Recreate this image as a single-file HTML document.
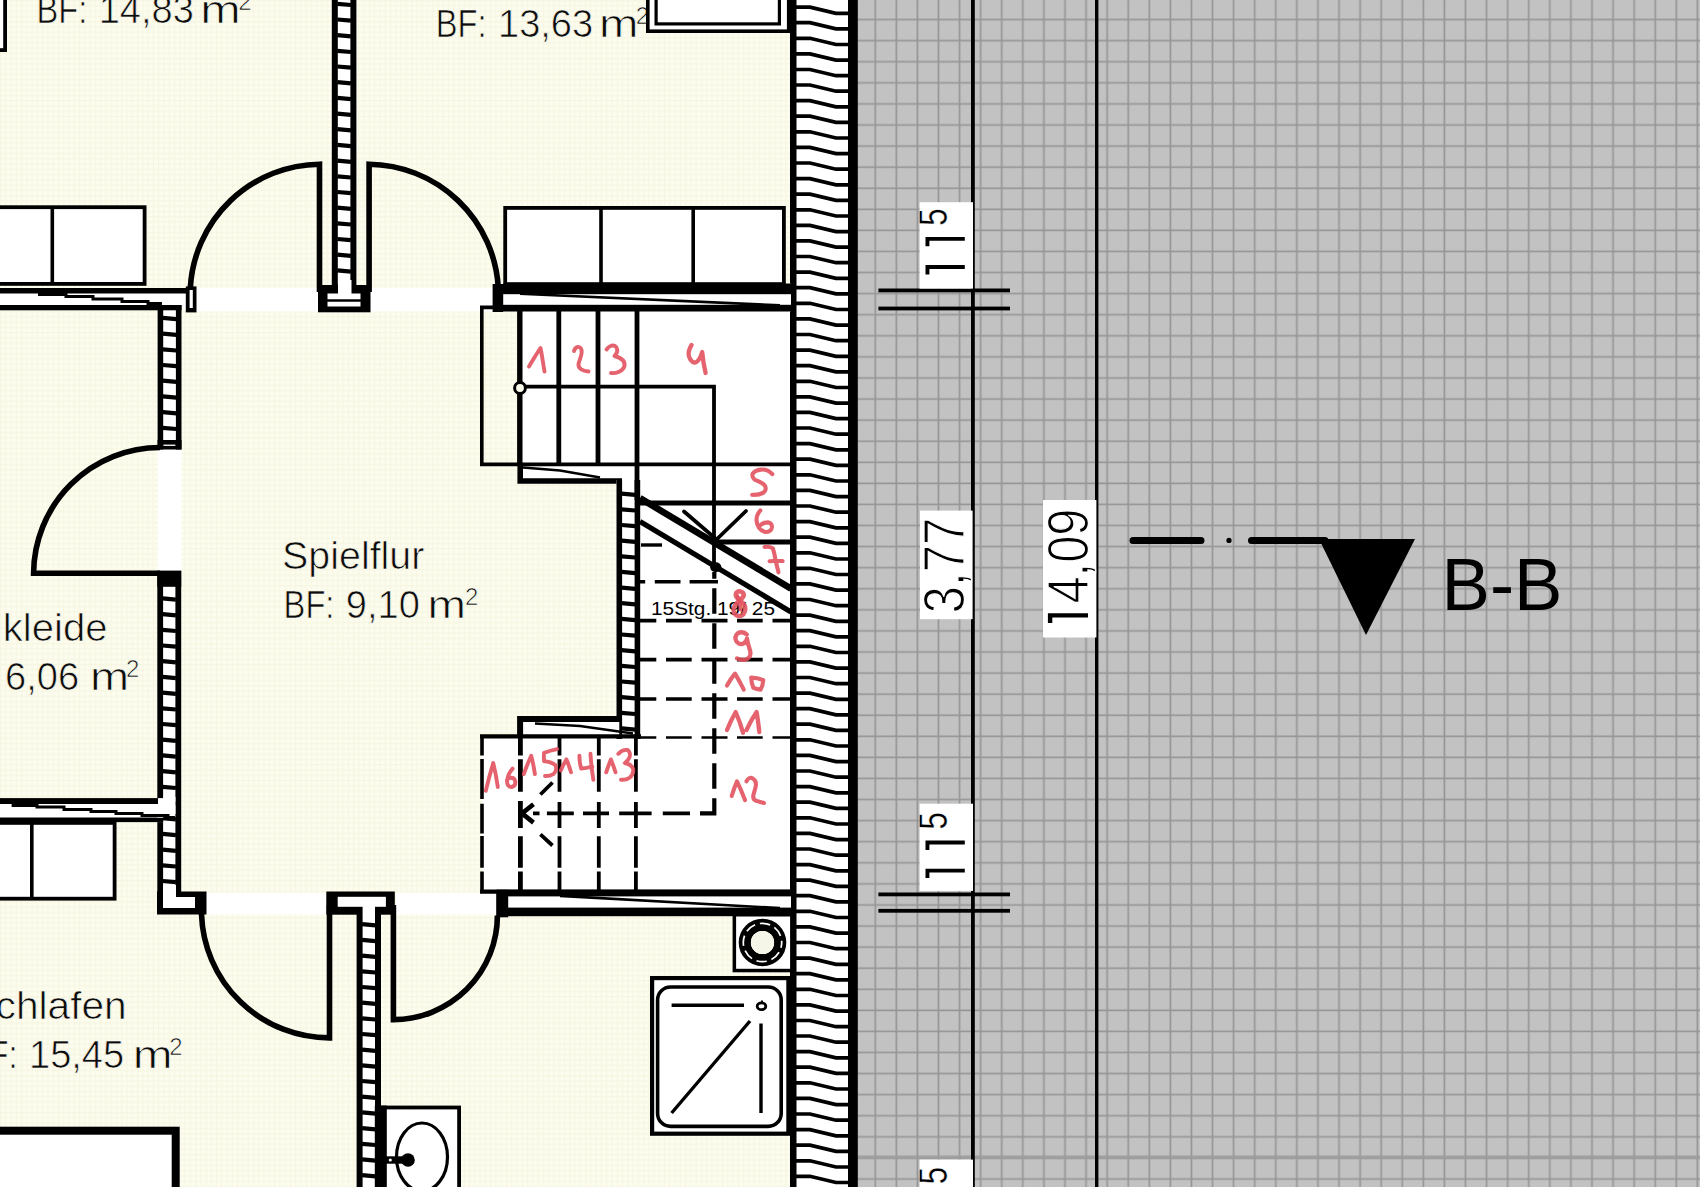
<!DOCTYPE html>
<html><head><meta charset="utf-8"><title>Grundriss</title>
<style>html,body{margin:0;padding:0;background:#fff;}body{width:1700px;height:1187px;overflow:hidden;font-family:"Liberation Sans",sans-serif;}svg{display:block}</style>
</head><body>
<svg width="1700" height="1187" viewBox="0 0 1700 1187">
<defs>
<pattern id="gg" x="9.6" y="18.3" width="21.08" height="21.08" patternUnits="userSpaceOnUse">
<rect width="21.08" height="21.08" fill="#c2c2c2"/>
<path d="M0 1.4H21.08M1.4 0V21.08" stroke="#6a6a6a" stroke-width="1.7" fill="none" opacity="0.5"/>
</pattern>
<pattern id="cg" x="0" y="0" width="5.27" height="5.27" patternUnits="userSpaceOnUse">
<rect width="5.27" height="5.27" fill="#fcfcef"/>
<path d="M0 0.5H5.27M0.5 0V5.27" stroke="#f6f6e1" stroke-width="1" fill="none"/>
</pattern>
</defs>
<rect x="0" y="0" width="792" height="1187" fill="url(#cg)"/>
<rect x="857" y="0" width="843" height="1187" fill="url(#gg)"/>
<rect x="857" y="1155.4" width="843" height="3.8" fill="#9c9c9c" opacity="0.8"/>
<rect x="196" y="288" width="122" height="23.5" fill="#fff"/>
<rect x="370" y="288" width="123" height="23.5" fill="#fff"/>
<rect x="158" y="449" width="23.5" height="123" fill="#fff"/>
<rect x="206" y="893" width="121" height="21.5" fill="#fff"/>
<rect x="396" y="893" width="101" height="21.5" fill="#fff"/>
<rect x="518" y="311" width="273" height="154" fill="#fff"/>
<rect x="639" y="464" width="152" height="274" fill="#fff"/>
<rect x="482" y="737" width="309" height="154" fill="#fff"/>
<rect x="790" y="0" width="7" height="1187" fill="#000"/>
<rect x="796.5" y="0" width="52" height="1187" fill="#fff"/>
<rect x="848" y="0" width="9.8" height="1187" fill="#000"/>
<path d="M796 -8.5H810L836 -2.3H849 M796 7.1H810L836 13.3H849 M796 22.7H810L836 28.9H849 M796 38.3H810L836 44.5H849 M796 53.9H810L836 60.1H849 M796 69.5H810L836 75.7H849 M796 85.0H810L836 91.2H849 M796 100.6H810L836 106.8H849 M796 116.2H810L836 122.4H849 M796 131.8H810L836 138.0H849 M796 147.4H810L836 153.6H849 M796 163.0H810L836 169.2H849 M796 178.6H810L836 184.8H849 M796 194.2H810L836 200.4H849 M796 209.8H810L836 216.0H849 M796 225.4H810L836 231.6H849 M796 240.9H810L836 247.1H849 M796 256.5H810L836 262.7H849 M796 272.1H810L836 278.3H849 M796 287.7H810L836 293.9H849 M796 303.3H810L836 309.5H849 M796 318.9H810L836 325.1H849 M796 334.5H810L836 340.7H849 M796 350.1H810L836 356.3H849 M796 365.7H810L836 371.9H849 M796 381.3H810L836 387.5H849 M796 396.9H810L836 403.1H849 M796 412.4H810L836 418.6H849 M796 428.0H810L836 434.2H849 M796 443.6H810L836 449.8H849 M796 459.2H810L836 465.4H849 M796 474.8H810L836 481.0H849 M796 490.4H810L836 496.6H849 M796 506.0H810L836 512.2H849 M796 521.6H810L836 527.8H849 M796 537.2H810L836 543.4H849 M796 552.8H810L836 559.0H849 M796 568.3H810L836 574.5H849 M796 583.9H810L836 590.1H849 M796 599.5H810L836 605.7H849 M796 615.1H810L836 621.3H849 M796 630.7H810L836 636.9H849 M796 646.3H810L836 652.5H849 M796 661.9H810L836 668.1H849 M796 677.5H810L836 683.7H849 M796 693.1H810L836 699.3H849 M796 708.6H810L836 714.9H849 M796 724.2H810L836 730.4H849 M796 739.8H810L836 746.0H849 M796 755.4H810L836 761.6H849 M796 771.0H810L836 777.2H849 M796 786.6H810L836 792.8H849 M796 802.2H810L836 808.4H849 M796 817.8H810L836 824.0H849 M796 833.4H810L836 839.6H849 M796 849.0H810L836 855.2H849 M796 864.6H810L836 870.8H849 M796 880.1H810L836 886.3H849 M796 895.7H810L836 901.9H849 M796 911.3H810L836 917.5H849 M796 926.9H810L836 933.1H849 M796 942.5H810L836 948.7H849 M796 958.1H810L836 964.3H849 M796 973.7H810L836 979.9H849 M796 989.3H810L836 995.5H849 M796 1004.9H810L836 1011.1H849 M796 1020.5H810L836 1026.7H849 M796 1036.0H810L836 1042.2H849 M796 1051.6H810L836 1057.8H849 M796 1067.2H810L836 1073.4H849 M796 1082.8H810L836 1089.0H849 M796 1098.4H810L836 1104.6H849 M796 1114.0H810L836 1120.2H849 M796 1129.6H810L836 1135.8H849 M796 1145.2H810L836 1151.4H849 M796 1160.8H810L836 1167.0H849 M796 1176.3H810L836 1182.5H849 M796 1191.9H810L836 1198.1H849" stroke="#000" stroke-width="3.7" fill="none"/>
<rect x="331.8" y="0" width="24.599999999999966" height="300" fill="#fff"/>
<rect x="331.8" y="0" width="6" height="300" fill="#000"/>
<rect x="350.4" y="0" width="6" height="300" fill="#000"/>
<path d="M337.3 3.8L350.9 5.0 M337.3 19.5L350.9 20.7 M337.3 35.2L350.9 36.4 M337.3 50.8L350.9 52.0 M337.3 66.5L350.9 67.7 M337.3 82.2L350.9 83.4 M337.3 97.9L350.9 99.1 M337.3 113.6L350.9 114.8 M337.3 129.2L350.9 130.4 M337.3 144.9L350.9 146.1 M337.3 160.6L350.9 161.8 M337.3 176.3L350.9 177.5 M337.3 192.0L350.9 193.2 M337.3 207.6L350.9 208.8 M337.3 223.3L350.9 224.5 M337.3 239.0L350.9 240.2 M337.3 254.7L350.9 255.9 M337.3 270.4L350.9 271.6 M337.3 286.0L350.9 287.2" stroke="#000" stroke-width="4.2" fill="none"/>
<rect x="318" y="285" width="52.5" height="27.3" fill="#000"/>
<rect x="327.5" y="293.5" width="33" height="13" fill="#fff"/>
<rect x="338" y="280" width="13.5" height="14" fill="#fff"/>
<path d="M327 300.5H361" stroke="#000" stroke-width="2.5"/>
<rect x="0" y="288" width="196" height="22.3" fill="#fff"/>
<rect x="0" y="288" width="196" height="5.5" fill="#000"/>
<path d="M38 294.6H66V296.6H93V299H122V301.4H148V303.6H162" stroke="#000" stroke-width="3" fill="none"/>
<rect x="185.8" y="286.4" width="10.7" height="26" fill="#000"/>
<rect x="189.6" y="290" width="3.2" height="18" fill="#fff"/>
<rect x="157.6" y="305" width="23.900000000000006" height="144.5" fill="#fff"/>
<rect x="157.6" y="305" width="5.6" height="144.5" fill="#000"/>
<rect x="175.9" y="305" width="5.6" height="144.5" fill="#000"/>
<path d="M162.7 317.9L176.4 319.1 M162.7 333.6L176.4 334.8 M162.7 349.3L176.4 350.5 M162.7 365.0L176.4 366.2 M162.7 380.7L176.4 381.9 M162.7 396.4L176.4 397.6 M162.7 412.1L176.4 413.3 M162.7 427.8L176.4 429.0 M162.7 443.5L176.4 444.7" stroke="#000" stroke-width="4.2" fill="none"/>
<rect x="0" y="305" width="181.5" height="5.3" fill="#000"/>
<rect x="157.6" y="440" width="23.9" height="9.5" fill="#000"/>
<rect x="163.4" y="444.6" width="12" height="1.3" fill="#fff"/>
<rect x="157.3" y="571" width="23.899999999999977" height="322" fill="#fff"/>
<rect x="157.3" y="571" width="5.8" height="322" fill="#000"/>
<rect x="175.39999999999998" y="571" width="5.8" height="322" fill="#000"/>
<path d="M162.60000000000002 598.4L175.89999999999998 599.6 M162.60000000000002 614.1L175.89999999999998 615.3 M162.60000000000002 629.8L175.89999999999998 631.0 M162.60000000000002 645.5L175.89999999999998 646.7 M162.60000000000002 661.2L175.89999999999998 662.4 M162.60000000000002 676.9L175.89999999999998 678.1 M162.60000000000002 692.6L175.89999999999998 693.8 M162.60000000000002 708.3L175.89999999999998 709.5 M162.60000000000002 724.0L175.89999999999998 725.2 M162.60000000000002 739.7L175.89999999999998 740.9 M162.60000000000002 755.4L175.89999999999998 756.6 M162.60000000000002 771.1L175.89999999999998 772.3 M162.60000000000002 786.8L175.89999999999998 788.0 M162.60000000000002 802.5L175.89999999999998 803.7 M162.60000000000002 818.2L175.89999999999998 819.4 M162.60000000000002 833.9L175.89999999999998 835.1 M162.60000000000002 849.6L175.89999999999998 850.8 M162.60000000000002 865.3L175.89999999999998 866.5 M162.60000000000002 881.0L175.89999999999998 882.2" stroke="#000" stroke-width="4.2" fill="none"/>
<rect x="157.3" y="570.6" width="23.9" height="16.2" fill="#000"/>
<rect x="157" y="891.5" width="49.5" height="23" fill="#000"/>
<rect x="163" y="897" width="32" height="11" fill="#fff"/>
<rect x="163" y="885" width="13" height="13" fill="#fff"/>
<rect x="0" y="798.1" width="163" height="24" fill="#fff"/>
<rect x="0" y="798.1" width="158" height="5.9" fill="#000"/>
<rect x="0" y="817.5" width="163.2" height="4.6" fill="#000"/>
<rect x="157.3" y="804" width="6" height="13.5" fill="#fff"/>
<rect x="163" y="797" width="12.5" height="17" fill="#fff"/>
<path d="M11.6 805.5H37V807H64V809.5H91V811.5H116V813.5H142V815.5H168V817.5H175" stroke="#000" stroke-width="3" fill="none"/>
<rect x="356.6" y="905" width="24.399999999999977" height="285" fill="#fff"/>
<rect x="356.6" y="905" width="6" height="285" fill="#000"/>
<rect x="375" y="905" width="6" height="285" fill="#000"/>
<path d="M362.1 908.6L375.5 909.8 M362.1 924.2L375.5 925.4 M362.1 939.9L375.5 941.1 M362.1 955.6L375.5 956.8 M362.1 971.3L375.5 972.5 M362.1 987.0L375.5 988.2 M362.1 1002.6L375.5 1003.8 M362.1 1018.3L375.5 1019.5 M362.1 1034.0L375.5 1035.2 M362.1 1049.7L375.5 1050.9 M362.1 1065.4L375.5 1066.6 M362.1 1081.0L375.5 1082.2 M362.1 1096.7L375.5 1097.9 M362.1 1112.4L375.5 1113.6 M362.1 1128.1L375.5 1129.3 M362.1 1143.8L375.5 1145.0 M362.1 1159.4L375.5 1160.6 M362.1 1175.1L375.5 1176.3" stroke="#000" stroke-width="4.2" fill="none"/>
<rect x="326.3" y="891.5" width="68.5" height="23.2" fill="#000"/>
<rect x="362.6" y="906" width="12.4" height="9" fill="#fff"/>
<rect x="337.7" y="896.8" width="48.2" height="10" fill="#fff"/>
<rect x="363" y="903" width="11.5" height="8" fill="#fff"/>
<rect x="503" y="283.5" width="288" height="28.0" fill="#fff"/>
<rect x="503" y="283.5" width="288" height="10.699999999999989" fill="#000"/>
<rect x="503" y="304.8" width="288" height="6.699999999999989" fill="#000"/>
<path d="M520 293.7L780 305.3" stroke="#000" stroke-width="2.6" fill="none"/>
<rect x="492.6" y="284" width="10.6" height="28" fill="#000"/>
<rect x="497" y="889.8" width="294" height="26.40000000000009" fill="#fff"/>
<rect x="497" y="889.8" width="294" height="6.600000000000023" fill="#000"/>
<rect x="497" y="907.6" width="294" height="8.600000000000023" fill="#000"/>
<path d="M560 895.9L780 908.1" stroke="#000" stroke-width="2.6" fill="none"/>
<rect x="496.2" y="889.8" width="12" height="27.5" fill="#000"/>
<rect x="517" y="462.8" width="123" height="21" fill="#fff"/>
<path d="M520.2 463V481H622" stroke="#000" stroke-width="5.6" fill="none"/>
<path d="M523 467.5L560 470.5L600 477.5" stroke="#000" stroke-width="2.6" fill="none"/>
<rect x="616.5" y="480" width="23.700000000000045" height="259" fill="#fff"/>
<rect x="616.5" y="480" width="5.6" height="259" fill="#000"/>
<rect x="634.6" y="480" width="5.6" height="259" fill="#000"/>
<path d="M621.6 493.7L635.1 494.9 M621.6 509.3L635.1 510.5 M621.6 525.0L635.1 526.2 M621.6 540.6L635.1 541.9 M621.6 556.3L635.1 557.5 M621.6 571.9L635.1 573.1 M621.6 587.6L635.1 588.8 M621.6 603.2L635.1 604.4 M621.6 618.9L635.1 620.1 M621.6 634.5L635.1 635.7 M621.6 650.2L635.1 651.4 M621.6 665.8L635.1 667.0 M621.6 681.5L635.1 682.7 M621.6 697.1L635.1 698.3 M621.6 712.8L635.1 714.0 M621.6 728.4L635.1 729.6" stroke="#000" stroke-width="4.2" fill="none"/>
<rect x="517.3" y="716" width="102" height="22" fill="#fff"/>
<path d="M622 719H520.1V738" stroke="#000" stroke-width="6" fill="none"/>
<path d="M535 723.5L580 726L633 733.5" stroke="#000" stroke-width="2.6" fill="none"/>
<rect x="-18.1" y="-18.1" width="23.2" height="68.2" fill="#fff" stroke="#000" stroke-width="3.8"/>
<rect x="-8.1" y="207.20000000000002" width="152.7" height="76.7" fill="#fff" stroke="#000" stroke-width="3.8"/>
<path d="M52.3 206V284" stroke="#000" stroke-width="3.6"/>
<rect x="505.2" y="207.9" width="278.7" height="76.2" fill="#fff" stroke="#000" stroke-width="3.8"/>
<path d="M601 207V284M693.2 207V284" stroke="#000" stroke-width="3.6"/>
<rect x="-8.1" y="822.9" width="122.7" height="75.8" fill="#fff" stroke="#000" stroke-width="3.8"/>
<path d="M31.8 823V899" stroke="#000" stroke-width="3.6"/>
<rect x="-16.0" y="1130.7" width="191.7" height="92" fill="#fff" stroke="#000" stroke-width="8"/>
<rect x="734.35" y="914.75" width="57.5" height="55.8" fill="#fff" stroke="#000" stroke-width="3.5"/>
<circle cx="762.5" cy="942.5" r="17.7" fill="none" stroke="#000" stroke-width="12.2"/>
<circle cx="762.5" cy="942.5" r="11.6" fill="#f6f6e8"/>
<circle cx="762.5" cy="942.5" r="19.2" fill="none" stroke="#fff" stroke-width="1.7" stroke-dasharray="10.5 4.9" stroke-dashoffset="5.2"/>
<rect x="652.1" y="978.1" width="136.3" height="155.60000000000002" fill="#fff" stroke="#000" stroke-width="4.2"/>
<rect x="657.6" y="987" width="123.6" height="139.4" rx="13" ry="13" fill="#fff" stroke="#000" stroke-width="3.6"/>
<path d="M671.6 1005.3H744M750 1021L671.6 1113M761 1023.6V1113" stroke="#000" stroke-width="3.4" fill="none"/>
<ellipse cx="761.5" cy="1006.3" rx="4.3" ry="3.4" fill="#fff" stroke="#000" stroke-width="2.8"/>
<path d="M762 1002.5V1000.5" stroke="#000" stroke-width="2"/>
<rect x="382.9" y="1107.5" width="76.2" height="96.2" fill="#fff" stroke="#000" stroke-width="3.8"/>
<rect x="374.8" y="1105.6" width="12" height="90" fill="#000"/>
<ellipse cx="422" cy="1157" rx="25.5" ry="34" fill="#fff" stroke="#000" stroke-width="3.2"/>
<path d="M386 1160H408" stroke="#000" stroke-width="7.4"/>
<circle cx="408" cy="1160" r="6.8" fill="#000"/>
<circle cx="390.3" cy="1160" r="1.6" fill="#fff"/>
<path d="M319.5 292V164.2A131 131 0 0 0 190.3 288" stroke="#000" stroke-width="5.6" fill="none" stroke-linejoin="miter"/>
<path d="M369.1 292V164.2A131 131 0 0 1 498.3 288" stroke="#000" stroke-width="5.6" fill="none" stroke-linejoin="miter"/>
<path d="M160 573.2H33.6A126.5 126.5 0 0 1 160 447.5" stroke="#000" stroke-width="5.6" fill="none" stroke-linejoin="miter"/>
<path d="M329.5 905V1037.9A128.1 128.1 0 0 1 201.5 914" stroke="#000" stroke-width="5.6" fill="none" stroke-linejoin="miter"/>
<path d="M393.4 905V1019.6A104 104 0 0 0 497.4 915.5" stroke="#000" stroke-width="5.6" fill="none" stroke-linejoin="miter"/>
<path d="M480 307.4H520M481.8 306V465.5" stroke="#000" stroke-width="3.6" fill="none"/>
<path d="M519.8 311V466" stroke="#000" stroke-width="5.4" fill="none"/>
<path d="M558.8 311V464M598 311V464M637 311V500" stroke="#000" stroke-width="4.8" fill="none"/>
<path d="M480 464.4H791" stroke="#000" stroke-width="3.6" fill="none"/>
<path d="M520 386.7H714V568" stroke="#000" stroke-width="3.8" fill="none"/>
<circle cx="520" cy="388" r="5.4" fill="#fafaeb" stroke="#000" stroke-width="3"/>
<path d="M639 503H791" stroke="#000" stroke-width="5.2" fill="none"/>
<path d="M716 541.9H791" stroke="#000" stroke-width="5" fill="none"/>
<path d="M641 545H662" stroke="#000" stroke-width="3.4" fill="none"/>
<path d="M640 498.2L791 588.6" stroke="#000" stroke-width="6.6" fill="none"/>
<path d="M640 521.5L791 612" stroke="#000" stroke-width="5.2" fill="none"/>
<path d="M684 511.5L716.5 539.5L746 511" stroke="#000" stroke-width="3.8" fill="none" stroke-linecap="round"/>
<ellipse cx="715.8" cy="567.2" rx="5.6" ry="5" fill="#000"/>
<path d="M639.6 581.7H645.2M654.8 581.7H680.5M689.6 581.7H718" stroke="#000" stroke-width="3.4" fill="none"/>
<path d="M639.6 620.6H656.3M666 620.6H691.7M701.5 620.6H727.5M737 620.6H762.7M772.5 620.6H791" stroke="#000" stroke-width="3.6" fill="none"/>
<path d="M639.6 659.6H656.3M666 659.6H691.7M701.5 659.6H727.5M737 659.6H762.7M772.5 659.6H791" stroke="#000" stroke-width="3.6" fill="none"/>
<path d="M639.6 699.0H656.3M666 699.0H691.7M701.5 699.0H727.5M737 699.0H762.7M772.5 699.0H791" stroke="#000" stroke-width="3.6" fill="none"/>
<path d="M639.6 737.5H656.3M666 737.5H691.7M701.5 737.5H727.5M737 737.5H762.7M772.5 737.5H791" stroke="#000" stroke-width="2.6" fill="none"/>
<path d="M714.3 572V578.8M714.3 588.2V613.8M714.3 623.2V648.8M714.3 658.2V683.8M714.3 693.2V718.8M714.3 728.2V753.8M714.3 763.2V788.8M714.3 798.2V815.3M716.4 813.4H700" stroke="#000" stroke-width="4.2" fill="none"/>
<path d="M533 813.4H539.5M546.9 813.4H573.8M583 813.4H609M619.2 813.4H651.6M662.8 813.4H690" stroke="#000" stroke-width="3.8" fill="none"/>
<path d="M482 735V755.6M482 759V799M482 803.8V833.5M482 836V867.7M482 871.5V891" stroke="#000" stroke-width="3.6" fill="none"/>
<path d="M520.4 738V755.6M520.4 759.3V791.8M520.4 801V828M520.4 836.2V867.7M520.4 871.5V890" stroke="#000" stroke-width="4.8" fill="none"/>
<path d="M559.5 738V755.6M559.5 759.3V791.8M559.5 802V828M559.5 836.2V867.7M559.5 871.5V890" stroke="#000" stroke-width="3.8" fill="none"/>
<path d="M598.8 738V755.6M598.8 759.3V791.8M598.8 802V828M598.8 836.2V867.7M598.8 871.5V890" stroke="#000" stroke-width="3.8" fill="none"/>
<path d="M635.9 738V755.6M635.9 759.3V791.8M635.9 802V828M635.9 836.2V867.7M635.9 871.5V890" stroke="#000" stroke-width="3.8" fill="none"/>
<path d="M480 736.4H641" stroke="#000" stroke-width="4.4" fill="none"/>
<path d="M480 891.6H791" stroke="#000" stroke-width="4.2" fill="none"/>
<path d="M522 813.4L533.5 804.2M522 813.4L533.5 822.6" stroke="#000" stroke-width="4.6" fill="none"/>
<path d="M552.5 782.5L540.4 794.5M540.4 834.4L552.5 845.5" stroke="#000" stroke-width="3.8" fill="none"/>
<g font-family="'Liberation Sans', sans-serif" fill="#0c0c0c" stroke="#fafaec" stroke-width="0.7">
<text transform="translate(36.52 22.7) scale(0.86 1)" font-size="38" text-anchor="start" >BF:</text>
<text transform="translate(98.70 22.7) scale(1.0 1)" font-size="38" text-anchor="start" >14,83</text>
<text transform="translate(200.30 22.7) scale(1.2781954887218046 1)" font-size="38" text-anchor="start" >m</text>
<text transform="translate(251.60 9.7) scale(1.0 1)" font-size="24" text-anchor="end" >2</text>
<text transform="translate(435.82 37) scale(0.86 1)" font-size="38" text-anchor="start" >BF:</text>
<text transform="translate(498.00 37) scale(1.0 1)" font-size="38" text-anchor="start" >13,63</text>
<text transform="translate(599.08 37) scale(1.248120300751877 1)" font-size="38" text-anchor="start" >m</text>
<text transform="translate(649.20 24) scale(1.0 1)" font-size="24" text-anchor="end" >2</text>
<text transform="translate(283.62 618.2) scale(0.86 1)" font-size="38" text-anchor="start" >BF:</text>
<text transform="translate(345.80 618.2) scale(1.0 1)" font-size="38" text-anchor="start" >9,10</text>
<text transform="translate(427.46 618.2) scale(1.2142857142857146 1)" font-size="38" text-anchor="start" >m</text>
<text transform="translate(478.30 605.2) scale(1.0 1)" font-size="24" text-anchor="end" >2</text>
<text transform="translate(5.10 690.4) scale(1.0 1)" font-size="38" text-anchor="start" >6,06</text>
<text transform="translate(90.11 690.4) scale(1.2368421052631575 1)" font-size="38" text-anchor="start" >m</text>
<text transform="translate(139.40 677.4) scale(1.0 1)" font-size="24" text-anchor="end" >2</text>
<text transform="translate(-33.18 1068) scale(0.86 1)" font-size="38" text-anchor="start" >BF:</text>
<text transform="translate(29.00 1068) scale(1.0 1)" font-size="38" text-anchor="start" >15,45</text>
<text transform="translate(132.85 1068) scale(1.2593984962406015 1)" font-size="38" text-anchor="start" >m</text>
<text transform="translate(182.60 1055) scale(1.0 1)" font-size="24" text-anchor="end" >2</text>
<text transform="translate(282.10 568.8) scale(1.036 1)" font-size="38" text-anchor="start" >Spielflur</text>
<text transform="translate(107.50 640.8) scale(1.055 1)" font-size="38" text-anchor="end" >kleide</text>
<text transform="translate(126.70 1018.8) scale(1.07 1)" font-size="38" text-anchor="end" >chlafen</text>
<text transform="translate(651.00 614.6) scale(1.097 1)" font-size="19" text-anchor="start" stroke="none" fill="#000">15Stg. 19/ 25</text>
</g>
<rect x="647.8" y="-18.2" width="140.9" height="49.4" fill="#fff" stroke="#000" stroke-width="3.6"/>
<rect x="656.1" y="-18.4" width="123.3" height="42.3" fill="#fff" stroke="#000" stroke-width="3.2"/>
<rect x="971" y="0" width="3.8" height="1187" fill="#000"/>
<rect x="1095" y="0" width="3.4" height="1187" fill="#000"/>
<rect x="878.4" y="288.5" width="131.6" height="3.8" fill="#000"/>
<rect x="878.4" y="306.6" width="131.6" height="3.8" fill="#000"/>
<rect x="878.4" y="892.5" width="131.6" height="3.8" fill="#000"/>
<rect x="878.4" y="908.9" width="131.6" height="3.8" fill="#000"/>
<rect x="919.6" y="202.2" width="53.4" height="86.4" fill="#fff"/>
<rect x="919.6" y="803.7" width="53.4" height="87.2" fill="#fff"/>
<rect x="920" y="510.6" width="52.6" height="108.6" fill="#fff"/>
<rect x="1043" y="500" width="53.4" height="137.5" fill="#fff"/>
<rect x="919.6" y="1159.6" width="53.4" height="40" fill="#fff"/>
<rect x="971" y="0" width="3.8" height="1187" fill="#000" opacity="0"/>
<clipPath id="cl1"><rect x="919.6" y="202.2" width="53.4" height="86.4"/></clipPath>
<clipPath id="cl2"><rect x="919.6" y="803.7" width="53.4" height="87.2"/></clipPath>
<clipPath id="cl3"><rect x="919.6" y="1159.6" width="53.4" height="40"/></clipPath>
<g font-family="'Liberation Sans', sans-serif" fill="#000" stroke="#fff" stroke-width="1.1">
<g clip-path="url(#cl1)">
<path d="M964.8 267H927.45V274.45" stroke="#000" stroke-width="3.9" fill="none" stroke-linejoin="miter"/>
<path d="M964.8 238.9H927.45V246.35" stroke="#000" stroke-width="3.9" fill="none" stroke-linejoin="miter"/>
<text transform="translate(946.6 225.8) rotate(-90) scale(0.92 1.19)" font-size="34" stroke-width="0.3">5</text>
</g>
<g clip-path="url(#cl2)">
<path d="M964.8 870.6H927.45V878.0500000000001" stroke="#000" stroke-width="3.9" fill="none" stroke-linejoin="miter"/>
<path d="M964.8 842.5H927.45V849.95" stroke="#000" stroke-width="3.9" fill="none" stroke-linejoin="miter"/>
<text transform="translate(946.6 829.4000000000001) rotate(-90) scale(0.92 1.19)" font-size="34" stroke-width="0.3">5</text>
</g>
<g clip-path="url(#cl3)">
<path d="M964.8 1225.4H927.45V1232.8500000000001" stroke="#000" stroke-width="3.9" fill="none" stroke-linejoin="miter"/>
<path d="M964.8 1197.3H927.45V1204.75" stroke="#000" stroke-width="3.9" fill="none" stroke-linejoin="miter"/>
<text transform="translate(946.6 1184.2) rotate(-90) scale(0.92 1.19)" font-size="34" stroke-width="0.3">5</text>
</g>
<text transform="translate(964.2 613.4) rotate(-90) scale(0.985 1.15)" font-size="50" >3,77</text>
<path d="M1088 615.4H1050.1000000000001V623.1" stroke="#000" stroke-width="4.4" fill="none" stroke-linejoin="miter"/>
<text transform="translate(1088 603.5) rotate(-90) scale(0.975 1.15)" font-size="50" >4,09</text>
</g>
<path d="M1133 540.4H1201M1251.5 540.4H1325" stroke="#000" stroke-width="7" stroke-linecap="round" fill="none"/>
<circle cx="1229" cy="540.4" r="2.6" fill="#000"/>
<path d="M1319 539H1415L1366 635Z" fill="#000"/>
<text x="1441.5" y="609.6" font-family="'Liberation Sans', sans-serif" font-size="74" fill="#000" textLength="121" lengthAdjust="spacingAndGlyphs">B-B</text>
<filter id="rb" x="-20%" y="-20%" width="140%" height="140%"><feGaussianBlur stdDeviation="0.55"/></filter>
<path d="M529 366.5C533 360 537 353 540.5 348C542 355 543 363 544.5 371.5" stroke="#e3525f" stroke-width="3.9" fill="none" stroke-linecap="round" stroke-linejoin="round" opacity="0.9" filter="url(#rb)"/>
<path d="M574 351C575 347 579 345.5 581 348.5C583.5 353 579.5 359 578.5 364C578 369 583 371 588.5 371.5" stroke="#e3525f" stroke-width="3.9" fill="none" stroke-linecap="round" stroke-linejoin="round" opacity="0.9" filter="url(#rb)"/>
<path d="M606.5 349.5C609 346 614 343.5 616.5 347.5C618.5 351.5 616 354.5 614.5 356C620 357.5 625.5 360.5 624.5 366C623 371.5 616 373.5 611 373" stroke="#e3525f" stroke-width="3.9" fill="none" stroke-linecap="round" stroke-linejoin="round" opacity="0.9" filter="url(#rb)"/>
<path d="M691.6 345C689 349 688 353 689 356.5C690.5 361.5 694 363.5 696.5 362C699.5 360 701 356 702.2 352C702.8 359 704 366 705.6 373" stroke="#e3525f" stroke-width="4.3" fill="none" stroke-linecap="round" stroke-linejoin="round" opacity="0.9" filter="url(#rb)"/>
<path d="M772.3 474.2C769 470.5 765 469.3 761 469.6C757 470 754 471.5 752.6 473.8C752 476 752.8 478 754.5 479.5C758 481.5 762.5 482.5 764.8 485.5C766.3 488 765.8 491 763.5 492.6C760 494.6 756 495 752.2 494.8" stroke="#e3525f" stroke-width="4.1000000000000005" fill="none" stroke-linecap="round" stroke-linejoin="round" opacity="0.9" filter="url(#rb)"/>
<path d="M760.4 510.4C757.5 513.5 756.3 517 756.6 521C757 526 760 530.5 764.6 531.8C768.5 532.5 771.5 530.5 771.9 527.5C772.2 524.5 770.5 522.6 768 522.4C764.5 522.4 761.5 523.8 759.6 526" stroke="#e3525f" stroke-width="4.1000000000000005" fill="none" stroke-linecap="round" stroke-linejoin="round" opacity="0.9" filter="url(#rb)"/>
<path d="M764.6 547C767.5 546.5 770.5 547 772.8 548.2C774 552 774.8 555.5 775.4 559.2C776.3 563.6 777.3 568 778.5 572.3M769.6 561.3C774 560.6 778.3 560.6 782.6 561" stroke="#e3525f" stroke-width="4.1000000000000005" fill="none" stroke-linecap="round" stroke-linejoin="round" opacity="0.9" filter="url(#rb)"/>
<path d="M741.5 592C738.5 590.4 735.8 592 735.8 595C736 598 739 599.5 741.5 601.5C744.5 604 746 607.5 744.8 611.5C743.6 615.5 739.5 617.2 736.2 615.2C733 613 733 608.5 735.2 605C737.5 601.5 741.5 599.5 743.3 596.5C744.3 594.3 743.5 592.5 741.5 592Z" stroke="#e3525f" stroke-width="4.5" fill="none" stroke-linecap="round" stroke-linejoin="round" opacity="0.9" filter="url(#rb)"/>
<path d="M737.5 596.5C739.5 600 741 604 740.5 609.5" stroke="#e3525f" stroke-width="4.1000000000000005" fill="none" stroke-linecap="round" stroke-linejoin="round" opacity="0.9" filter="url(#rb)"/>
<path d="M746.8 634.5C744 631.5 739 631.5 736.6 634.5C734.4 637.6 735.4 642 738.8 643.6C742.5 645 746.2 642.8 747 638.5C747.6 643 749 647 750.2 651C751.2 655 749.5 658.8 745.4 659.7C742.3 660.3 739.4 659.6 737 658.4" stroke="#e3525f" stroke-width="4.3" fill="none" stroke-linecap="round" stroke-linejoin="round" opacity="0.9" filter="url(#rb)"/>
<path d="M727 685.6C729.5 681 732 677 735 673.6C738 678.5 741 684 743.8 689.6" stroke="#e3525f" stroke-width="4.1000000000000005" fill="none" stroke-linecap="round" stroke-linejoin="round" opacity="0.9" filter="url(#rb)"/>
<path d="M751.2 677.6C755 677.6 759.5 678.5 763.3 680.2C763 683.8 762.2 687 760.6 689.6C758 689.5 755.5 688.8 753.2 687.6C752 684.5 751.2 681 751.2 677.6Z" stroke="#e3525f" stroke-width="4.1000000000000005" fill="none" stroke-linecap="round" stroke-linejoin="round" opacity="0.9" filter="url(#rb)"/>
<path d="M727 730C729.6 723.5 732.5 717.5 735.7 712C738.5 718.5 741 725.5 743.1 732.8M746.5 730C749.5 723.5 752.8 717.5 756.6 712C757.8 718.5 758.6 725.5 759.3 732" stroke="#e3525f" stroke-width="4.3" fill="none" stroke-linecap="round" stroke-linejoin="round" opacity="0.9" filter="url(#rb)"/>
<path d="M731.7 796C733.2 791 735 786 737 781.4C740 787.5 742.7 794 745.1 800.2" stroke="#e3525f" stroke-width="4.1000000000000005" fill="none" stroke-linecap="round" stroke-linejoin="round" opacity="0.9" filter="url(#rb)"/>
<path d="M746.5 781.3C747.5 778.6 750 777.4 752 778C755 779.4 756.2 782.4 755.9 785.4C755.4 789.5 753.6 792.6 753.2 796.2C753.2 799 754.6 800.4 756.6 800.9C759 801.7 761.5 802.4 764 803" stroke="#e3525f" stroke-width="4.1000000000000005" fill="none" stroke-linecap="round" stroke-linejoin="round" opacity="0.9" filter="url(#rb)"/>
<path d="M606.2 772.3C607.6 767.8 609.2 763.5 610.9 759.4C612.6 763.6 614.2 768 615.5 772.3" stroke="#e3525f" stroke-width="3.9" fill="none" stroke-linecap="round" stroke-linejoin="round" opacity="0.9" filter="url(#rb)"/>
<path d="M618.3 753.8C621 751 624.6 749.6 627.6 750C630 751.5 630.4 754.8 629.4 757.5C628.4 760 626.6 761.8 624.8 763C628.6 763.8 632 765.8 633.1 768.7C633.8 772.5 632 775.8 629.4 777.8C626.8 779.6 623.8 780 621 779.7" stroke="#e3525f" stroke-width="3.9" fill="none" stroke-linecap="round" stroke-linejoin="round" opacity="0.9" filter="url(#rb)"/>
<path d="M560.8 770.4C562.4 766.5 564.3 762.8 566.4 759.4C568.2 763.5 569.8 768 571 772.3" stroke="#e3525f" stroke-width="3.9" fill="none" stroke-linecap="round" stroke-linejoin="round" opacity="0.9" filter="url(#rb)"/>
<path d="M579.4 755.6C579.4 760 580 764.5 581.2 768.6C585 768.4 588.8 767.6 592.3 766.7M590.5 753.8C591 762.5 592 771.2 593.3 779.7" stroke="#e3525f" stroke-width="3.9" fill="none" stroke-linecap="round" stroke-linejoin="round" opacity="0.9" filter="url(#rb)"/>
<path d="M523.8 774.1C526 767.8 528.5 761.5 531.2 755.7C532.8 761.6 534 767.8 534.9 774.1" stroke="#e3525f" stroke-width="3.9" fill="none" stroke-linecap="round" stroke-linejoin="round" opacity="0.9" filter="url(#rb)"/>
<path d="M557.1 749.1C552.8 750 548.4 751.2 544.1 752.8C543.8 755.6 543.8 758.4 544.1 761.2C548 761.4 552.2 762.6 555.3 765C556.8 768 555.8 771.8 553.4 774.1C550.8 775.6 547.8 776.2 545 776" stroke="#e3525f" stroke-width="3.9" fill="none" stroke-linecap="round" stroke-linejoin="round" opacity="0.9" filter="url(#rb)"/>
<path d="M485.8 790.8C488 781.4 490.5 772 493.2 763.1C495.2 771 496.7 779 497.8 787.1" stroke="#e3525f" stroke-width="3.9" fill="none" stroke-linecap="round" stroke-linejoin="round" opacity="0.9" filter="url(#rb)"/>
<path d="M512.6 768.6C509.5 772 507.4 776.6 507 781.6C507.2 785 509 787.2 511.7 787C514 786.5 515.5 784.2 515.4 781.6C514.8 779 512.8 777.6 510.4 777.8C508.8 778 507.6 779 507 780" stroke="#e3525f" stroke-width="3.9" fill="none" stroke-linecap="round" stroke-linejoin="round" opacity="0.9" filter="url(#rb)"/>
</svg>
</body></html>
